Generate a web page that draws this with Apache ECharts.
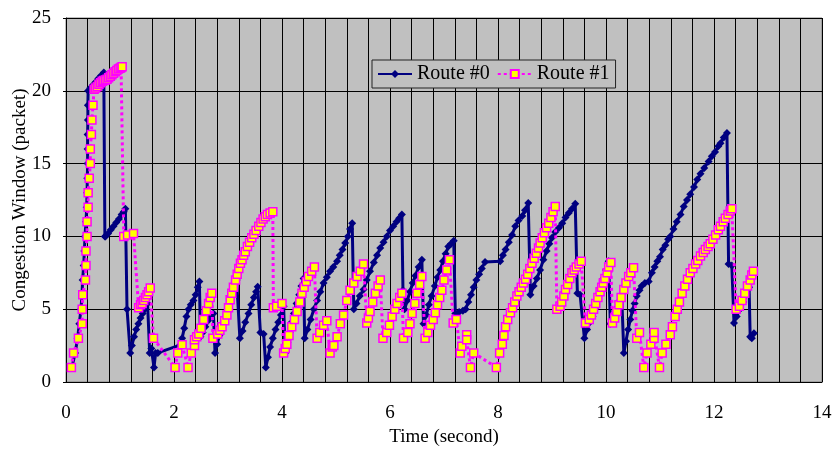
<!DOCTYPE html>
<html>
<head>
<meta charset="utf-8">
<script src="https://cdn.jsdelivr.net/npm/echarts@6/dist/echarts.min.js"></script>
<style>
html,body{margin:0;padding:0;background:#fff;}
#chart{width:834px;height:452px;}
</style>
</head>
<body>
<div id="chart"></div>
<script>
// ---- data (time in s, congestion window in packets) ----
const seriesNames = ["Route #0", "Route #1"];
const xTicks = [0, 2, 4, 6, 8, 10, 12, 14];
const yTicks = [0, 5, 10, 15, 20, 25];

const route0 = [
[0.11,1],[0.17,2],[0.215,3],[0.246,4],[0.277,5],[0.296,6],[0.308,7],[0.327,8],[0.34,9],[0.352,10],
[0.37,11],[0.383,12],[0.39,13],[0.395,14],[0.40,15],[0.40,16],[0.40,17],[0.405,18],[0.405,19],[0.41,20],
[0.45,20.2],[0.50,20.4],[0.55,20.6],[0.60,20.85],[0.65,21.05],[0.70,21.25],
[0.72,10.0],[0.73,10.0],[0.78,10.2],[0.83,10.45],[0.88,10.7],[0.93,10.95],[0.98,11.2],[1.03,11.5],[1.07,11.7],[1.10,11.9],
[1.13,5.0],[1.19,2.0],[1.22,2.5],[1.26,3.1],[1.30,3.6],[1.34,4.0],[1.38,4.4],[1.42,4.7],[1.46,5.0],[1.51,5.4],
[1.55,2.0],[1.58,2.3],[1.63,1.0],[1.66,2.0],[1.70,2.0],[2.12,2.55],
[2.15,3.0],[2.19,3.7],[2.23,4.5],[2.27,5.0],[2.31,5.3],[2.36,5.6],[2.40,6.0],[2.44,6.5],[2.47,6.9],
[2.49,3.1],[2.53,3.4],[2.58,3.8],[2.63,4.2],[2.68,4.5],[2.73,4.7],
[2.76,2.0],[2.80,2.6],[2.84,3.2],[2.89,3.8],[2.94,4.4],[2.99,5.0],[3.04,5.6],[3.09,6.2],[3.14,6.8],[3.16,7.0],
[3.22,3.0],[3.27,3.5],[3.32,4.1],[3.38,4.7],[3.43,5.3],[3.48,5.8],[3.52,6.2],[3.55,6.55],
[3.60,3.4],[3.66,3.3],[3.70,1.0],[3.74,1.7],[3.78,2.4],[3.83,3.0],[3.88,3.6],[3.93,4.1],[3.98,4.6],[4.03,5.2],
[4.06,2.0],[4.10,2.7],[4.14,3.4],[4.18,4.1],[4.22,4.7],[4.27,5.4],[4.32,6.0],[4.36,6.6],[4.40,7.1],
[4.42,3.0],[4.47,3.6],[4.53,4.3],[4.59,5.0],[4.65,5.6],[4.71,6.2],[4.77,6.8],[4.83,7.2],[4.89,7.6],[4.95,7.9],
[5.02,8.3],[5.07,8.7],[5.12,9.1],[5.17,9.55],[5.22,10.0],[5.26,10.5],[5.30,10.9],
[5.33,5.0],[5.38,5.4],[5.44,5.9],[5.51,6.35],[5.57,7.0],[5.63,7.6],[5.70,8.2],[5.76,8.7],[5.82,9.2],[5.88,9.6],
[5.94,10.0],[6.00,10.4],[6.06,10.7],[6.12,11.0],[6.17,11.25],[6.22,11.5],
[6.24,6.3],[6.27,5.0],[6.32,5.6],[6.37,6.2],[6.42,6.8],[6.47,7.3],[6.53,7.9],[6.59,8.4],
[6.62,4.0],[6.67,4.6],[6.72,5.3],[6.77,5.9],[6.83,6.6],[6.88,7.2],[6.93,7.7],[6.98,8.3],[7.03,8.8],[7.08,9.3],[7.13,9.5],[7.18,9.7],
[7.21,4.7],[7.28,4.8],[7.35,4.9],[7.40,5.0],[7.45,5.5],[7.50,6.0],[7.55,6.5],[7.60,7.0],[7.65,7.4],[7.70,7.8],[7.76,8.25],
[8.04,8.3],[8.09,8.7],[8.14,9.1],[8.20,9.6],[8.26,10.1],[8.32,10.7],[8.38,11.1],[8.45,11.4],[8.50,11.8],[8.56,12.3],
[8.60,6.0],[8.66,6.6],[8.72,7.1],[8.78,7.7],[8.84,8.4],[8.90,9.0],[8.95,9.5],[9.00,9.9],[9.06,10.3],[9.13,10.6],
[9.19,10.9],[9.25,11.3],[9.31,11.6],[9.37,11.9],[9.43,12.25],
[9.47,6.1],[9.52,6.0],[9.60,3.0],[9.65,3.6],[9.70,4.1],[9.75,4.5],[9.80,5.1],[9.85,5.8],[9.90,6.5],[9.95,7.1],[10.00,7.7],[10.05,8.3],
[10.08,4.0],[10.13,4.5],[10.18,5.0],[10.23,5.5],[10.29,6.0],
[10.33,2.0],[10.37,2.8],[10.41,3.6],[10.45,4.3],[10.49,4.9],[10.53,5.4],[10.57,5.9],[10.62,6.3],[10.66,6.6],[10.72,6.8],[10.79,6.9],
[10.85,7.5],[10.90,7.9],[10.95,8.3],[11.00,8.6],[11.05,9.1],[11.10,9.4],[11.15,9.8],[11.19,10.0],[11.25,10.5],[11.31,11.0],
[11.38,11.5],[11.44,12.05],[11.50,12.5],[11.56,12.9],[11.63,13.4],[11.69,13.9],[11.75,14.3],[11.82,14.7],[11.90,15.15],
[11.96,15.5],[12.02,15.8],[12.08,16.2],[12.12,16.4],[12.18,16.8],[12.24,17.1],
[12.27,8.1],[12.33,8.0],[12.37,4.05],[12.42,4.5],[12.48,5.0],[12.54,5.5],[12.60,6.0],[12.65,6.5],
[12.67,3.1],[12.70,3.0],[12.74,3.35]
];

const route1 = [
[0.10,1],[0.14,2],[0.23,3],[0.30,4],[0.30,5],[0.31,6],[0.36,7],[0.37,8],[0.37,9],[0.39,10],
[0.39,11],[0.41,12],[0.41,13],[0.43,14],[0.45,15],[0.45,16],[0.47,17],[0.48,18],[0.50,19],[0.52,20.1],
[0.55,20.2],[0.58,20.3],[0.61,20.45],[0.64,20.55],[0.67,20.65],[0.70,20.7],[0.73,20.75],[0.76,20.8],[0.79,20.9],
[0.82,21.0],[0.85,21.1],[0.88,21.2],[0.91,21.3],[0.94,21.4],[0.97,21.5],[1.00,21.55],[1.02,21.6],[1.04,21.65],
[1.07,10.0],[1.14,10.1],[1.25,10.2],
[1.345,5.1],[1.38,5.3],[1.41,5.4],[1.44,5.6],[1.47,5.8],[1.50,6.0],[1.53,6.2],[1.56,6.45],
[1.62,3.0],[2.02,1.0],[2.07,2.0],[2.15,2.55],[2.26,1.0],[2.32,2.0],[2.38,2.5],[2.38,2.9],
[2.42,3.1],[2.46,3.3],[2.50,3.7],[2.55,4.3],[2.60,4.9],[2.64,5.4],[2.67,5.8],[2.70,6.1],
[2.72,3.0],[2.81,3.3],[2.85,3.55],[2.89,3.8],[2.94,4.2],[2.98,4.6],[3.01,5.1],[3.04,5.65],[3.07,6.1],[3.10,6.5],
[3.14,7.0],[3.17,7.4],[3.20,7.8],[3.23,8.15],[3.26,8.4],[3.29,8.7],[3.32,8.95],[3.36,9.3],[3.40,9.6],[3.44,9.9],
[3.48,10.15],[3.52,10.4],[3.57,10.7],[3.61,10.95],[3.65,11.2],[3.69,11.35],[3.73,11.5],[3.78,11.6],[3.83,11.7],
[3.84,5.1],[3.90,5.2],[4.00,5.4],
[4.03,2.0],[4.06,2.3],[4.09,2.6],[4.13,3.2],[4.18,3.8],[4.23,4.3],[4.28,4.85],[4.33,5.5],[4.37,6.1],[4.41,6.5],
[4.45,6.9],[4.49,7.25],[4.55,7.6],[4.60,7.9],
[4.65,3.0],[4.70,3.4],[4.77,3.9],[4.83,4.2],
[4.89,2.0],[4.93,2.4],[4.96,2.5],[5.02,3.1],[5.08,4.0],[5.14,4.6],[5.20,5.6],[5.26,6.3],[5.33,6.8],[5.39,7.25],[5.45,7.6],[5.51,8.1],
[5.57,4.05],[5.60,4.4],[5.63,4.85],[5.68,5.5],[5.73,6.1],[5.78,6.6],[5.82,7.0],
[5.87,3.0],[5.94,3.4],[5.99,3.9],[6.04,4.5],[6.09,5.0],[6.13,5.4],[6.18,5.8],[6.22,6.1],
[6.25,3.0],[6.33,3.4],[6.37,4.0],[6.41,4.7],[6.46,5.4],[6.50,6.1],[6.55,6.7],[6.59,7.25],
[6.65,3.0],[6.70,3.4],[6.75,3.9],[6.80,4.3],[6.84,4.75],[6.88,5.3],[6.92,5.8],[6.96,6.3],[7.00,7.0],[7.05,7.7],[7.10,8.4],
[7.17,4.05],[7.23,4.3],[7.30,2.0],[7.33,2.45],[7.42,3.25],[7.42,2.9],
[7.49,1.0],[7.55,2.0],[7.97,1.0],[8.03,2.0],[8.08,2.6],
[8.11,3.2],[8.14,3.8],[8.18,4.3],[8.23,4.75],[8.27,5.1],[8.31,5.5],[8.35,5.9],[8.39,6.2],[8.43,6.5],[8.47,6.8],
[8.51,7.05],[8.55,7.4],[8.59,7.8],[8.63,8.15],[8.67,8.5],[8.71,8.85],[8.75,9.2],[8.78,9.55],[8.82,9.9],[8.86,10.25],
[8.90,10.6],[8.94,10.9],[8.98,11.3],[9.02,11.7],[9.06,12.05],
[9.09,5.0],[9.15,5.2],[9.18,5.5],[9.22,5.9],[9.25,6.35],[9.29,6.7],[9.33,7.1],[9.37,7.5],[9.41,7.7],[9.45,7.9],[9.50,8.1],[9.54,8.3],
[9.62,4.05],[9.69,4.3],[9.73,4.6],[9.77,5.0],[9.81,5.4],[9.85,5.8],[9.89,6.2],[9.92,6.5],[9.95,6.8],[9.98,7.1],[10.02,7.5],[10.05,7.9],[10.09,8.2],
[10.12,4.05],[10.16,4.4],[10.20,4.85],[10.24,5.3],[10.28,5.8],[10.33,6.35],[10.37,6.8],[10.42,7.25],[10.46,7.5],[10.51,7.85],
[10.57,3.0],[10.62,3.4],[10.70,1.0],[10.76,2.0],[10.83,2.6],[10.89,3.0],[10.89,3.4],
[10.99,1.0],[11.04,2.0],[11.11,2.6],[11.19,3.25],
[11.23,3.8],[11.28,4.5],[11.32,5.0],[11.36,5.5],[11.41,6.1],[11.46,6.6],[11.51,7.05],[11.56,7.5],[11.61,7.8],[11.66,8.1],
[11.70,8.35],[11.75,8.65],[11.80,8.9],[11.84,9.1],[11.89,9.3],[11.93,9.5],[11.98,9.8],[12.03,10.1],[12.08,10.45],[12.12,10.7],
[12.17,11.0],[12.21,11.25],[12.26,11.5],[12.30,11.75],[12.33,11.9],
[12.41,5.0],[12.47,5.2],[12.52,5.6],[12.57,6.1],[12.62,6.6],[12.67,7.0],[12.70,7.35],[12.73,7.6]
];

const FONT = '"Liberation Serif", "Times New Roman", serif';
const chart = echarts.init(document.getElementById('chart'), null, {renderer: 'canvas'});
chart.setOption({
  animation: false,
  backgroundColor: '#ffffff',
  textStyle: {fontFamily: FONT},
  grid: {
    left: 66, top: 18, right: 12, bottom: 70,
    outerBoundsMode: 'none', containLabel: false,
    show: true, backgroundColor: '#c0c0c0', borderColor: '#808080', borderWidth: 1
  },
  legend: {
    data: seriesNames,
    left: 372, top: 60,
    orient: 'horizontal',
    padding: [4, 6, 4, 5],
    itemGap: 7,
    itemWidth: 34, itemHeight: 10,
    backgroundColor: '#c0c0c0',
    borderColor: '#222', borderWidth: 1,
    textStyle: {fontFamily: FONT, fontSize: 20, color: '#000'}
  },
  xAxis: {
    type: 'value', min: xTicks[0], max: xTicks[xTicks.length - 1], interval: 2,
    name: 'Time (second)', nameLocation: 'middle', nameGap: 46, nameMoveOverlap: false,
    nameTextStyle: {fontFamily: FONT, fontSize: 19, color: '#000'},
    axisLine: {show: true, onZero: false, lineStyle: {color: '#000', width: 1}},
    axisTick: {show: false},
    axisLabel: {fontFamily: FONT, fontSize: 19, color: '#000', margin: 22},
    splitLine: {show: true, lineStyle: {color: '#000', width: 1}},
    minorTick: {show: false, splitNumber: 5},
    minorSplitLine: {show: true, lineStyle: {color: '#000', width: 1}}
  },
  yAxis: {
    type: 'value', min: yTicks[0], max: yTicks[yTicks.length - 1], interval: 5,
    name: 'Congestion Window (packet)', nameLocation: 'middle', nameGap: 36, nameMoveOverlap: false,
    nameTextStyle: {fontFamily: FONT, fontSize: 19, color: '#000'},
    axisLine: {show: true, lineStyle: {color: '#000', width: 1}},
    axisTick: {show: true, length: 3, lineStyle: {color: '#000'}},
    axisLabel: {fontFamily: FONT, fontSize: 19, color: '#000', margin: 15},
    splitLine: {show: true, lineStyle: {color: '#000', width: 1}}
  },
  series: [
    {
      name: seriesNames[0], type: 'line', data: route0,
      symbol: 'diamond', symbolSize: 8, showSymbol: true,
      color: '#000080',
      lineStyle: {color: '#000080', width: 3},
      itemStyle: {color: '#000080'},
      z: 2
    },
    {
      name: seriesNames[1], type: 'line', data: route1,
      symbol: 'rect', symbolSize: 8, showSymbol: true,
      color: '#ff00ff',
      lineStyle: {color: '#ff00ff', width: 3, type: [3, 3]},
      itemStyle: {color: '#ffff00', borderColor: '#ff00ff', borderWidth: 1.5},
      z: 3
    }
  ]
});
</script>
</body>
</html>
